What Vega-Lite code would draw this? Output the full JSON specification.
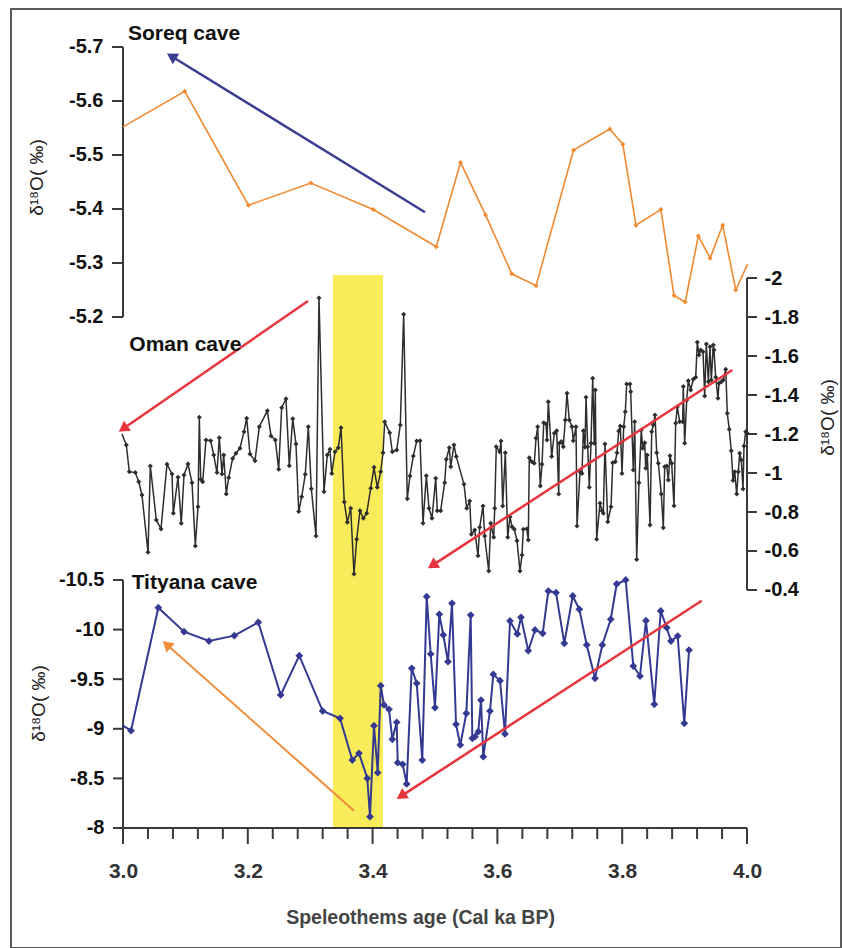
{
  "$schema": "https://vega.github.io/schema/vega-lite/v6.json",
  "width": 830,
  "height": 939,
  "autosize": {"type": "none"},
  "padding": {"left": 11, "top": 9, "right": 2, "bottom": 0},
  "background": "white",
  "config": {
    "font": "Liberation Sans",
    "view": {"stroke": "#5a5a5a", "strokeWidth": 2},
    "axis": {"grid": false, "domain": false, "ticks": false, "labelFont": "Liberation Sans", "labelFontWeight": "bold", "labelColor": "#111", "labelFlush": false, "labelOverlap": false, "labelBound": false, "titleFont": "Liberation Sans", "titleFontWeight": "normal", "titleColor": "#222"}
  },
  "datasets": {
    "soreq": [
      {"age":3.0,"d18O":-5.552},{"age":3.099,"d18O":-5.618},{"age":3.201,"d18O":-5.407},{"age":3.301,"d18O":-5.448},{"age":3.401,"d18O":-5.399},{"age":3.502,"d18O":-5.330},{"age":3.541,"d18O":-5.486},{"age":3.581,"d18O":-5.389},{"age":3.623,"d18O":-5.280},{"age":3.662,"d18O":-5.258},{"age":3.722,"d18O":-5.509},{"age":3.780,"d18O":-5.548},{"age":3.801,"d18O":-5.520},{"age":3.822,"d18O":-5.370},{"age":3.862,"d18O":-5.399},{"age":3.883,"d18O":-5.240},{"age":3.901,"d18O":-5.228},{"age":3.922,"d18O":-5.350},{"age":3.941,"d18O":-5.309},{"age":3.961,"d18O":-5.370},{"age":3.982,"d18O":-5.250},{"age":4.001,"d18O":-5.298}
    ],
    "oman": [
      {"age":2.9984,"d18O":-1.200},{"age":3.0053,"d18O":-1.144},{"age":3.0101,"d18O":-1.007},{"age":3.0197,"d18O":-1.002},{"age":3.0252,"d18O":-0.955},{"age":3.0304,"d18O":-0.887},{"age":3.0401,"d18O":-0.593},{"age":3.0438,"d18O":-1.036},{"age":3.0534,"d18O":-0.759},{"age":3.0609,"d18O":-0.713},
      {"age":3.0705,"d18O":-1.045},{"age":3.0785,"d18O":-0.995},{"age":3.0806,"d18O":-0.793},{"age":3.0881,"d18O":-0.978},{"age":3.0934,"d18O":-0.742},{"age":3.0978,"d18O":-0.990},{"age":3.1042,"d18O":-1.046},{"age":3.1106,"d18O":-0.950},{"age":3.1159,"d18O":-0.626},{"age":3.1202,"d18O":-0.827},
      {"age":3.1223,"d18O":-1.286},{"age":3.1245,"d18O":-0.968},{"age":3.1277,"d18O":-0.955},{"age":3.1330,"d18O":-1.169},{"age":3.1405,"d18O":-1.166},{"age":3.1454,"d18O":-1.092},{"age":3.1506,"d18O":-1.002},{"age":3.1543,"d18O":-1.181},{"age":3.1587,"d18O":-0.995},{"age":3.1614,"d18O":-1.092},
      {"age":3.1655,"d18O":-0.892},{"age":3.1694,"d18O":-0.976},{"age":3.1758,"d18O":-1.075},{"age":3.1811,"d18O":-1.101},{"age":3.1875,"d18O":-1.127},{"age":3.1939,"d18O":-1.212},{"age":3.1982,"d18O":-1.281},{"age":3.2035,"d18O":-1.097},{"age":3.2115,"d18O":-1.063},{"age":3.2184,"d18O":-1.237},
      {"age":3.2313,"d18O":-1.319},{"age":3.2372,"d18O":-1.190},{"age":3.2441,"d18O":-1.169},{"age":3.2495,"d18O":-1.019},{"age":3.2543,"d18O":-1.335},{"age":3.2612,"d18O":-1.381},{"age":3.2665,"d18O":-1.037},{"age":3.2720,"d18O":-1.278},{"age":3.2772,"d18O":-1.149},{"age":3.2816,"d18O":-0.802},
      {"age":3.2864,"d18O":-0.878},{"age":3.2921,"d18O":-0.993},{"age":3.2970,"d18O":-1.237},{"age":3.3018,"d18O":-0.919},{"age":3.3093,"d18O":-0.677},{"age":3.3141,"d18O":-1.897},{"age":3.3221,"d18O":-0.904},{"age":3.3274,"d18O":-1.092},{"age":3.3317,"d18O":-1.122},{"age":3.3345,"d18O":-0.998},
      {"age":3.3397,"d18O":-1.109},{"age":3.3450,"d18O":-1.130},{"age":3.3494,"d18O":-1.232},{"age":3.3546,"d18O":-0.851},{"age":3.3595,"d18O":-0.747},{"age":3.3649,"d18O":-0.819},{"age":3.3702,"d18O":-0.482},{"age":3.3745,"d18O":-0.660},{"age":3.3798,"d18O":-0.807},{"age":3.3851,"d18O":-0.768},
      {"age":3.3905,"d18O":-0.793},{"age":3.3970,"d18O":-0.922},{"age":3.4022,"d18O":-1.029},{"age":3.4075,"d18O":-0.927},{"age":3.4130,"d18O":-1.007},{"age":3.4167,"d18O":-1.104},{"age":3.4194,"d18O":-1.263},{"age":3.4274,"d18O":-1.207},{"age":3.4316,"d18O":-1.109},{"age":3.4386,"d18O":-1.118},
      {"age":3.4444,"d18O":-1.246},{"age":3.4498,"d18O":-1.814},{"age":3.4556,"d18O":-0.868},{"age":3.4599,"d18O":-0.985},{"age":3.4652,"d18O":-1.087},{"age":3.4707,"d18O":-1.164},{"age":3.4760,"d18O":-1.166},{"age":3.4808,"d18O":-0.742},{"age":3.4861,"d18O":-0.986},{"age":3.4904,"d18O":-0.819},
      {"age":3.4952,"d18O":-0.768},{"age":3.5011,"d18O":-0.973},{"age":3.5037,"d18O":-0.807},{"age":3.5091,"d18O":-0.807},{"age":3.5155,"d18O":-0.950},{"age":3.5181,"d18O":-1.070},{"age":3.5229,"d18O":-1.130},{"age":3.5252,"d18O":-1.032},{"age":3.5304,"d18O":-1.144},{"age":3.5341,"d18O":-1.084},
      {"age":3.5465,"d18O":-0.942},{"age":3.5508,"d18O":-0.819},{"age":3.5556,"d18O":-0.856},{"age":3.5582,"d18O":-0.686},{"age":3.5636,"d18O":-0.708},{"age":3.5689,"d18O":-0.576},{"age":3.5716,"d18O":-0.722},{"age":3.5769,"d18O":-0.831},{"age":3.5796,"d18O":-0.677},{"age":3.5861,"d18O":-0.497},
      {"age":3.5893,"d18O":-0.742},{"age":3.5941,"d18O":-0.670},{"age":3.5957,"d18O":-0.819},{"age":3.5982,"d18O":-1.135},{"age":3.6037,"d18O":-1.109},{"age":3.6058,"d18O":-1.164},{"age":3.6085,"d18O":-0.831},{"age":3.6127,"d18O":-1.104},{"age":3.6165,"d18O":-0.670},{"age":3.6202,"d18O":-0.776},
      {"age":3.6234,"d18O":-0.725},{"age":3.6271,"d18O":-0.711},{"age":3.6314,"d18O":-0.653},{"age":3.6362,"d18O":-0.497},{"age":3.6394,"d18O":-0.579},{"age":3.6415,"d18O":-0.711},{"age":3.6470,"d18O":-0.714},{"age":3.6495,"d18O":-0.656},{"age":3.6511,"d18O":-1.078},{"age":3.6554,"d18O":-1.058},
      {"age":3.6591,"d18O":-1.050},{"age":3.6619,"d18O":-1.178},{"age":3.6646,"d18O":-1.237},{"age":3.6688,"d18O":-0.933},{"age":3.6715,"d18O":-1.045},{"age":3.6742,"d18O":-1.258},{"age":3.6779,"d18O":-1.251},{"age":3.6795,"d18O":-1.169},{"age":3.6816,"d18O":-1.366},{"age":3.6870,"d18O":-1.084},
      {"age":3.6912,"d18O":-1.204},{"age":3.6950,"d18O":-1.217},{"age":3.6982,"d18O":-0.892},{"age":3.6992,"d18O":-1.152},{"age":3.7024,"d18O":-1.161},{"age":3.7056,"d18O":-1.135},{"age":3.7088,"d18O":-1.272},{"age":3.7115,"d18O":-1.409},{"age":3.7152,"d18O":-1.272},{"age":3.7196,"d18O":-1.237},
      {"age":3.7216,"d18O":-1.166},{"age":3.7260,"d18O":-1.237},{"age":3.7276,"d18O":-0.728},{"age":3.7324,"d18O":-1.007},{"age":3.7356,"d18O":-0.998},{"age":3.7377,"d18O":-1.217},{"age":3.7404,"d18O":-1.132},{"age":3.7420,"d18O":-1.388},{"age":3.7447,"d18O":-1.135},{"age":3.7473,"d18O":-0.927},
      {"age":3.7500,"d18O":-1.152},{"age":3.7527,"d18O":-1.486},{"age":3.7553,"d18O":-1.152},{"age":3.7569,"d18O":-1.426},{"age":3.7591,"d18O":-0.660},{"age":3.7644,"d18O":-0.845},{"age":3.7676,"d18O":-0.807},{"age":3.7697,"d18O":-0.793},{"age":3.7724,"d18O":-1.149},{"age":3.7768,"d18O":-0.750},
      {"age":3.7821,"d18O":-0.827},{"age":3.7848,"d18O":-1.053},{"age":3.7889,"d18O":-1.058},{"age":3.7917,"d18O":-1.104},{"age":3.7944,"d18O":-1.215},{"age":3.7970,"d18O":-1.241},{"age":3.7997,"d18O":-0.998},{"age":3.8024,"d18O":-1.237},{"age":3.8050,"d18O":-1.314},{"age":3.8072,"d18O":-1.456},
      {"age":3.8125,"d18O":-1.456},{"age":3.8136,"d18O":-1.417},{"age":3.8178,"d18O":-1.015},{"age":3.8200,"d18O":-1.263},{"age":3.8232,"d18O":-0.557},{"age":3.8269,"d18O":-0.950},{"age":3.8306,"d18O":-1.221},{"age":3.8328,"d18O":-1.127},{"age":3.8361,"d18O":-1.155},{"age":3.8377,"d18O":-1.024},
      {"age":3.8402,"d18O":-1.092},{"age":3.8446,"d18O":-0.733},{"age":3.8473,"d18O":-1.212},{"age":3.8498,"d18O":-1.246},{"age":3.8526,"d18O":-1.297},{"age":3.8553,"d18O":-1.104},{"age":3.8579,"d18O":-1.050},{"age":3.8627,"d18O":-0.892},{"age":3.8659,"d18O":-0.719},{"age":3.8681,"d18O":-1.032},
      {"age":3.8713,"d18O":-1.036},{"age":3.8739,"d18O":-0.964},{"age":3.8766,"d18O":-1.089},{"age":3.8793,"d18O":-1.050},{"age":3.8830,"d18O":-0.832},{"age":3.8857,"d18O":-1.255},{"age":3.8883,"d18O":-1.340},{"age":3.8921,"d18O":-1.263},{"age":3.8969,"d18O":-1.263},{"age":3.8979,"d18O":-1.443},
      {"age":3.9001,"d18O":-1.152},{"age":3.9034,"d18O":-1.374},{"age":3.9059,"d18O":-1.473},{"age":3.9098,"d18O":-1.426},{"age":3.9139,"d18O":-1.481},{"age":3.9178,"d18O":-1.491},{"age":3.9204,"d18O":-1.670},{"age":3.9231,"d18O":-1.605},{"age":3.9258,"d18O":-1.631},{"age":3.9295,"d18O":-1.622},
      {"age":3.9322,"d18O":-1.395},{"age":3.9348,"d18O":-1.662},{"age":3.9380,"d18O":-1.468},{"age":3.9407,"d18O":-1.648},{"age":3.9428,"d18O":-1.477},{"age":3.9460,"d18O":-1.656},{"age":3.9471,"d18O":-1.631},{"age":3.9498,"d18O":-1.491},{"age":3.9535,"d18O":-1.383},{"age":3.9551,"d18O":-1.460},
      {"age":3.9588,"d18O":-1.468},{"age":3.9620,"d18O":-1.477},{"age":3.9659,"d18O":-1.532},{"age":3.9684,"d18O":-1.306},{"age":3.9716,"d18O":-1.224},{"age":3.9748,"d18O":-1.114},{"age":3.9776,"d18O":-0.961},{"age":3.9803,"d18O":-1.007},{"age":3.9835,"d18O":-0.892},{"age":3.9861,"d18O":-1.007},
      {"age":3.9883,"d18O":-1.101},{"age":3.9909,"d18O":-1.067},{"age":3.9936,"d18O":-0.918},{"age":3.9952,"d18O":-1.138},{"age":3.9979,"d18O":-1.212},{"age":4.0005,"d18O":-1.204}
    ],
    "tityana": [
      {"age":3.0,"d18O":-9.031},{"age":3.0128,"d18O":-8.981},{"age":3.0566,"d18O":-10.221},{"age":3.0978,"d18O":-9.979},{"age":3.1378,"d18O":-9.885},{"age":3.1784,"d18O":-9.939},{"age":3.2168,"d18O":-10.074},{"age":3.2527,"d18O":-9.341},{"age":3.2825,"d18O":-9.737},{"age":3.3200,"d18O":-9.179},
      {"age":3.3478,"d18O":-9.106},{"age":3.3675,"d18O":-8.685},{"age":3.3782,"d18O":-8.753},{"age":3.3915,"d18O":-8.501},{"age":3.3958,"d18O":-8.114},{"age":3.4022,"d18O":-9.031},{"age":3.4082,"d18O":-8.557},{"age":3.4130,"d18O":-9.434},{"age":3.4183,"d18O":-9.240},{"age":3.4263,"d18O":-9.197},
      {"age":3.4316,"d18O":-8.894},{"age":3.4386,"d18O":-9.066},{"age":3.4402,"d18O":-8.658},{"age":3.4482,"d18O":-8.642},{"age":3.4546,"d18O":-8.444},{"age":3.4627,"d18O":-9.610},{"age":3.4707,"d18O":-9.459},{"age":3.4796,"d18O":-8.685},{"age":3.4867,"d18O":-10.332},{"age":3.4931,"d18O":-9.754},
      {"age":3.5000,"d18O":-9.213},{"age":3.5069,"d18O":-10.154},{"age":3.5133,"d18O":-9.946},{"age":3.5208,"d18O":-9.676},{"age":3.5272,"d18O":-10.265},{"age":3.5337,"d18O":-9.045},{"age":3.5405,"d18O":-8.837},{"age":3.5502,"d18O":-9.156},{"age":3.5572,"d18O":-10.147},{"age":3.5598,"d18O":-8.904},
      {"age":3.5641,"d18O":-8.920},{"age":3.5694,"d18O":-8.971},{"age":3.5737,"d18O":-9.290},{"age":3.5774,"d18O":-8.719},{"age":3.5881,"d18O":-9.179},{"age":3.5934,"d18O":-9.549},{"age":3.6042,"d18O":-9.485},{"age":3.6122,"d18O":-8.948},{"age":3.6202,"d18O":-10.087},{"age":3.6319,"d18O":-9.956},
      {"age":3.6378,"d18O":-10.124},{"age":3.6495,"d18O":-9.787},{"age":3.6603,"d18O":-9.996},{"age":3.6726,"d18O":-9.963},{"age":3.6816,"d18O":-10.389},{"age":3.6939,"d18O":-10.372},{"age":3.7072,"d18O":-9.862},{"age":3.7207,"d18O":-10.339},{"age":3.7313,"d18O":-10.205},{"age":3.7431,"d18O":-9.845},
      {"age":3.7564,"d18O":-9.509},{"age":3.7681,"d18O":-9.845},{"age":3.7816,"d18O":-10.104},{"age":3.7912,"d18O":-10.460},{"age":3.8056,"d18O":-10.500},{"age":3.8178,"d18O":-9.633},{"age":3.8285,"d18O":-9.532},{"age":3.8381,"d18O":-10.090},{"age":3.8514,"d18O":-9.247},{"age":3.8617,"d18O":-10.188},
      {"age":3.8713,"d18O":-10.019},{"age":3.8782,"d18O":-9.885},{"age":3.8889,"d18O":-9.935},{"age":3.8995,"d18O":-9.055},{"age":3.9071,"d18O":-9.794}
    ],
    "xTicks": [
      {"pos":3.0,"from":-8,"to":-7.8387},{"pos":3.04,"from":-8,"to":-7.8891},{"pos":3.08,"from":-8,"to":-7.8891},{"pos":3.12,"from":-8,"to":-7.8891},{"pos":3.16,"from":-8,"to":-7.8891},{"pos":3.2,"from":-8,"to":-7.8387},
      {"pos":3.24,"from":-8,"to":-7.8891},{"pos":3.28,"from":-8,"to":-7.8891},{"pos":3.32,"from":-8,"to":-7.8891},{"pos":3.36,"from":-8,"to":-7.8891},{"pos":3.4,"from":-8,"to":-7.8387},
      {"pos":3.44,"from":-8,"to":-7.8891},{"pos":3.48,"from":-8,"to":-7.8891},{"pos":3.52,"from":-8,"to":-7.8891},{"pos":3.56,"from":-8,"to":-7.8891},{"pos":3.6,"from":-8,"to":-7.8387},
      {"pos":3.64,"from":-8,"to":-7.8891},{"pos":3.68,"from":-8,"to":-7.8891},{"pos":3.72,"from":-8,"to":-7.8891},{"pos":3.76,"from":-8,"to":-7.8891},{"pos":3.8,"from":-8,"to":-7.8387},
      {"pos":3.84,"from":-8,"to":-7.8891},{"pos":3.88,"from":-8,"to":-7.8891},{"pos":3.92,"from":-8,"to":-7.8891},{"pos":3.96,"from":-8,"to":-7.8891},{"pos":4.0,"from":-8,"to":-7.8387}
    ],
    "tityanaTicks": [{"pos":-10.5,"from":3.0,"to":2.98397},{"pos":-10,"from":3.0,"to":2.98397},{"pos":-9.5,"from":3.0,"to":2.98397},{"pos":-9,"from":3.0,"to":2.98397},{"pos":-8.5,"from":3.0,"to":2.98397},{"pos":-8,"from":3.0,"to":2.98397}],
    "soreqTicks": [{"pos":-5.7,"from":3.0,"to":2.98237},{"pos":-5.6,"from":3.0,"to":2.98237},{"pos":-5.5,"from":3.0,"to":2.98237},{"pos":-5.4,"from":3.0,"to":2.98237},{"pos":-5.3,"from":3.0,"to":2.98237},{"pos":-5.2,"from":3.0,"to":2.98237}],
    "omanTicks": [{"pos":-2,"from":4.0,"to":4.01603},{"pos":-1.8,"from":4.0,"to":4.01603},{"pos":-1.6,"from":4.0,"to":4.01603},{"pos":-1.4,"from":4.0,"to":4.01603},{"pos":-1.2,"from":4.0,"to":4.01603},{"pos":-1,"from":4.0,"to":4.01603},{"pos":-0.8,"from":4.0,"to":4.01603},{"pos":-0.6,"from":4.0,"to":4.01603},{"pos":-0.4,"from":4.0,"to":4.01603}]
  },
  "layer": [
    {
      "data": {"values": [{"start": 3.3365, "end": 3.4167, "top": -13.575, "bottom": -8}]},
      "mark": {"type": "rect", "color": "#f9ec5b"},
      "encoding": {
        "x": {"field": "start", "type": "quantitative", "scale": {"domain": [2.820513, 4.150641], "nice": false, "zero": false}, "axis": null},
        "x2": {"field": "end"},
        "y": {"field": "top", "type": "quantitative", "scale": {"domain": [-16.256, -6.7903], "reverse": true, "nice": false, "zero": false}, "axis": null},
        "y2": {"field": "bottom"}
      }
    },
    {
      "data": {"values": [{"from": 3.0, "to": 4.0, "level": -8}]},
      "mark": {"type": "rule", "color": "#3a3a3a", "strokeWidth": 2},
      "encoding": {
        "x": {"field": "from", "type": "quantitative", "axis": null},
        "x2": {"field": "to"},
        "y": {"field": "level", "type": "quantitative", "scale": {"domain": [-16.256, -6.7903], "reverse": true, "nice": false, "zero": false}, "axis": null}
      }
    },
    {
      "data": {"values": [{"at": 3.0, "from": -10.5, "to": -8}]},
      "mark": {"type": "rule", "color": "#3a3a3a", "strokeWidth": 2},
      "encoding": {
        "x": {"field": "at", "type": "quantitative", "axis": null},
        "y": {"field": "from", "type": "quantitative", "scale": {"domain": [-16.256, -6.7903], "reverse": true, "nice": false, "zero": false}, "axis": null},
        "y2": {"field": "to"}
      }
    },
    {
      "data": {"values": [{"at": 3.0, "from": -5.7, "to": -5.2}]},
      "mark": {"type": "rule", "color": "#3a3a3a", "strokeWidth": 2},
      "encoding": {
        "x": {"field": "at", "type": "quantitative", "axis": null},
        "y": {"field": "from", "type": "quantitative", "scale": {"domain": [-5.77037, -4.03148], "reverse": true, "nice": false, "zero": false}, "axis": null},
        "y2": {"field": "to"}
      }
    },
    {
      "data": {"values": [{"at": 4.0, "from": -2, "to": -0.4}]},
      "mark": {"type": "rule", "color": "#3a3a3a", "strokeWidth": 2},
      "encoding": {
        "x": {"field": "at", "type": "quantitative", "axis": null},
        "y": {"field": "from", "type": "quantitative", "scale": {"domain": [-3.37949, 1.4359], "reverse": true, "nice": false, "zero": false}, "axis": null},
        "y2": {"field": "to"}
      }
    },
    {
      "data": {"name": "xTicks"},
      "mark": {"type": "rule", "color": "#3a3a3a", "strokeWidth": 2},
      "encoding": {
        "x": {"field": "pos", "type": "quantitative", "axis": null},
        "y": {"field": "from", "type": "quantitative", "scale": {"domain": [-16.256, -6.7903], "reverse": true, "nice": false, "zero": false}, "axis": null},
        "y2": {"field": "to"}
      }
    },
    {
      "data": {"name": "tityanaTicks"},
      "mark": {"type": "rule", "color": "#3a3a3a", "strokeWidth": 2},
      "encoding": {
        "x": {"field": "from", "type": "quantitative", "axis": null},
        "x2": {"field": "to"},
        "y": {"field": "pos", "type": "quantitative", "scale": {"domain": [-16.256, -6.7903], "reverse": true, "nice": false, "zero": false}, "axis": null}
      }
    },
    {
      "data": {"name": "soreqTicks"},
      "mark": {"type": "rule", "color": "#3a3a3a", "strokeWidth": 2},
      "encoding": {
        "x": {"field": "from", "type": "quantitative", "axis": null},
        "x2": {"field": "to"},
        "y": {"field": "pos", "type": "quantitative", "scale": {"domain": [-5.77037, -4.03148], "reverse": true, "nice": false, "zero": false}, "axis": null}
      }
    },
    {
      "data": {"name": "omanTicks"},
      "mark": {"type": "rule", "color": "#3a3a3a", "strokeWidth": 2},
      "encoding": {
        "x": {"field": "from", "type": "quantitative", "axis": null},
        "x2": {"field": "to"},
        "y": {"field": "pos", "type": "quantitative", "scale": {"domain": [-3.37949, 1.4359], "reverse": true, "nice": false, "zero": false}, "axis": null}
      }
    },
    {
      "data": {"name": "tityana"},
      "mark": {"type": "line", "color": "#343a92", "strokeWidth": 2},
      "encoding": {
        "x": {"field": "age", "type": "quantitative",
          "axis": {"orient": "bottom", "offset": -120, "values": [3.0, 3.2, 3.4, 3.6, 3.8, 4.0], "labelExpr": "format(datum.value, '.1f')", "labelFontSize": 21, "labelColor": "#333", "labelPadding": 32,
            "title": "Speleothems age (Cal ka BP)", "titleFontSize": 19.5, "titleFontWeight": "bold", "titleColor": "#444", "titleX": 409, "titleY": 89.5, "titleAlign": "center", "titleBaseline": "middle", "titleAngle": 0}},
        "y": {"field": "d18O", "type": "quantitative", "scale": {"domain": [-16.256, -6.7903], "reverse": true, "nice": false, "zero": false},
          "axis": {"orient": "left", "offset": -112, "values": [-10.5, -10, -9.5, -9, -8.5, -8], "labelExpr": "'-' + format(-datum.value, '~g')", "labelFontSize": 20, "labelPadding": 19,
            "title": "δ¹⁸O( ‰)", "titleFontSize": 19, "titleX": -85, "titleY": 694, "titleAngle": 270, "titleAlign": "center", "titleBaseline": "middle"}}
      }
    },
    {
      "data": {"name": "tityana"},
      "transform": [{"filter": "datum.age > 3.001"}],
      "mark": {"type": "point", "shape": "diamond", "filled": true, "size": 60, "opacity": 1, "color": "#343a92"},
      "encoding": {
        "x": {"field": "age", "type": "quantitative", "axis": null},
        "y": {"field": "d18O", "type": "quantitative", "scale": {"domain": [-16.256, -6.7903], "reverse": true, "nice": false, "zero": false}, "axis": null}
      }
    },
    {
      "data": {"values": [{"age": 3.3702, "d18O": -8.1744}, {"age": 3.0700, "d18O": -9.8498}]},
      "mark": {"type": "line", "color": "#f08c3a", "strokeWidth": 2},
      "encoding": {
        "x": {"field": "age", "type": "quantitative", "axis": null},
        "y": {"field": "d18O", "type": "quantitative", "scale": {"domain": [-16.256, -6.7903], "reverse": true, "nice": false, "zero": false}, "axis": null}
      }
    },
    {
      "data": {"values": [{"age": 3.0700, "d18O": -9.8498}]},
      "mark": {"type": "point", "shape": "triangle-up", "filled": true, "size": 150, "angle": 311.6, "opacity": 1, "color": "#f08c3a"},
      "encoding": {
        "x": {"field": "age", "type": "quantitative", "axis": null},
        "y": {"field": "d18O", "type": "quantitative", "scale": {"domain": [-16.256, -6.7903], "reverse": true, "nice": false, "zero": false}, "axis": null}
      }
    },
    {
      "data": {"values": [{"age": 3.9274, "d18O": -10.2913}, {"age": 3.4457, "d18O": -8.3216}]},
      "mark": {"type": "line", "color": "#e8343c", "strokeWidth": 2.5},
      "encoding": {
        "x": {"field": "age", "type": "quantitative", "axis": null},
        "y": {"field": "d18O", "type": "quantitative", "scale": {"domain": [-16.256, -6.7903], "reverse": true, "nice": false, "zero": false}, "axis": null}
      }
    },
    {
      "data": {"values": [{"age": 3.4457, "d18O": -8.3216}]},
      "mark": {"type": "point", "shape": "triangle-up", "filled": true, "size": 150, "angle": 237.0, "opacity": 1, "color": "#e8343c"},
      "encoding": {
        "x": {"field": "age", "type": "quantitative", "axis": null},
        "y": {"field": "d18O", "type": "quantitative", "scale": {"domain": [-16.256, -6.7903], "reverse": true, "nice": false, "zero": false}, "axis": null}
      }
    },
    {
      "data": {"values": [{"label": "Tityana cave", "age": 3.0139, "d18O": -10.406}]},
      "mark": {"type": "text", "align": "left", "baseline": "alphabetic", "fontSize": 21, "fontWeight": "bold", "color": "#111"},
      "encoding": {
        "x": {"field": "age", "type": "quantitative", "axis": null},
        "y": {"field": "d18O", "type": "quantitative", "scale": {"domain": [-16.256, -6.7903], "reverse": true, "nice": false, "zero": false}, "axis": null},
        "text": {"field": "label"}
      }
    },
    {
      "data": {"name": "soreq"},
      "mark": {"type": "line", "color": "#f08a31", "strokeWidth": 1.6},
      "encoding": {
        "x": {"field": "age", "type": "quantitative", "axis": null},
        "y": {"field": "d18O", "type": "quantitative", "scale": {"domain": [-5.77037, -4.03148], "reverse": true, "nice": false, "zero": false},
          "axis": {"orient": "left", "offset": -112, "values": [-5.7, -5.6, -5.5, -5.4, -5.3, -5.2], "labelExpr": "'-' + format(-datum.value, '.1f')", "labelFontSize": 20, "labelPadding": 20,
            "title": "δ¹⁸O( ‰)", "titleFontSize": 19, "titleX": -87, "titleY": 168, "titleAngle": 270, "titleAlign": "center", "titleBaseline": "middle"}}
      }
    },
    {
      "data": {"name": "soreq"},
      "transform": [{"filter": "datum.age > 3.0005 && datum.age < 4.0"}],
      "mark": {"type": "point", "shape": "diamond", "filled": true, "size": 25, "opacity": 1, "color": "#f08a31"},
      "encoding": {
        "x": {"field": "age", "type": "quantitative", "axis": null},
        "y": {"field": "d18O", "type": "quantitative", "scale": {"domain": [-5.77037, -4.03148], "reverse": true, "nice": false, "zero": false}, "axis": null}
      }
    },
    {
      "data": {"values": [{"age": 3.484, "d18O": -5.394}, {"age": 3.0777, "d18O": -5.6828}]},
      "mark": {"type": "line", "color": "#3b3e90", "strokeWidth": 2.5},
      "encoding": {
        "x": {"field": "age", "type": "quantitative", "axis": null},
        "y": {"field": "d18O", "type": "quantitative", "scale": {"domain": [-5.77037, -4.03148], "reverse": true, "nice": false, "zero": false}, "axis": null}
      }
    },
    {
      "data": {"values": [{"age": 3.0777, "d18O": -5.6828}]},
      "mark": {"type": "point", "shape": "triangle-up", "filled": true, "size": 150, "angle": 301.6, "opacity": 1, "color": "#3b3e90"},
      "encoding": {
        "x": {"field": "age", "type": "quantitative", "axis": null},
        "y": {"field": "d18O", "type": "quantitative", "scale": {"domain": [-5.77037, -4.03148], "reverse": true, "nice": false, "zero": false}, "axis": null}
      }
    },
    {
      "data": {"values": [{"label": "Soreq cave", "age": 3.008, "d18O": -5.713}]},
      "mark": {"type": "text", "align": "left", "baseline": "alphabetic", "fontSize": 21, "fontWeight": "bold", "color": "#111"},
      "encoding": {
        "x": {"field": "age", "type": "quantitative", "axis": null},
        "y": {"field": "d18O", "type": "quantitative", "scale": {"domain": [-5.77037, -4.03148], "reverse": true, "nice": false, "zero": false}, "axis": null},
        "text": {"field": "label"}
      }
    },
    {
      "data": {"name": "oman"},
      "mark": {"type": "line", "color": "#2e2e2e", "strokeWidth": 1.5},
      "encoding": {
        "x": {"field": "age", "type": "quantitative", "axis": null},
        "y": {"field": "d18O", "type": "quantitative", "scale": {"domain": [-3.37949, 1.4359], "reverse": true, "nice": false, "zero": false},
          "axis": {"orient": "right", "offset": -94, "values": [-2, -1.8, -1.6, -1.4, -1.2, -1, -0.8, -0.6, -0.4], "labelExpr": "'-' + format(-datum.value, '~g')", "labelFontSize": 20, "labelPadding": 17,
            "title": "δ¹⁸O( ‰)", "titleFontSize": 19, "titleX": 80, "titleY": 408, "titleAngle": 270, "titleAlign": "center", "titleBaseline": "middle"}}
      }
    },
    {
      "data": {"name": "oman"},
      "transform": [{"filter": "datum.age >= 3.0"}],
      "mark": {"type": "point", "shape": "diamond", "filled": true, "size": 25, "opacity": 1, "color": "#2e2e2e"},
      "encoding": {
        "x": {"field": "age", "type": "quantitative", "axis": null},
        "y": {"field": "d18O", "type": "quantitative", "scale": {"domain": [-3.37949, 1.4359], "reverse": true, "nice": false, "zero": false}, "axis": null}
      }
    },
    {
      "data": {"values": [{"age": 3.2965, "d18O": -1.882}, {"age": 3.0002, "d18O": -1.2272}]},
      "mark": {"type": "line", "color": "#e8343c", "strokeWidth": 2.5},
      "encoding": {
        "x": {"field": "age", "type": "quantitative", "axis": null},
        "y": {"field": "d18O", "type": "quantitative", "scale": {"domain": [-3.37949, 1.4359], "reverse": true, "nice": false, "zero": false}, "axis": null}
      }
    },
    {
      "data": {"values": [{"age": 3.0002, "d18O": -1.2272}]},
      "mark": {"type": "point", "shape": "triangle-up", "filled": true, "size": 150, "angle": 235.4, "opacity": 1, "color": "#e8343c"},
      "encoding": {
        "x": {"field": "age", "type": "quantitative", "axis": null},
        "y": {"field": "d18O", "type": "quantitative", "scale": {"domain": [-3.37949, 1.4359], "reverse": true, "nice": false, "zero": false}, "axis": null}
      }
    },
    {
      "data": {"values": [{"age": 3.9764, "d18O": -1.5282}, {"age": 3.4958, "d18O": -0.5262}]},
      "mark": {"type": "line", "color": "#e8343c", "strokeWidth": 2.5},
      "encoding": {
        "x": {"field": "age", "type": "quantitative", "axis": null},
        "y": {"field": "d18O", "type": "quantitative", "scale": {"domain": [-3.37949, 1.4359], "reverse": true, "nice": false, "zero": false}, "axis": null}
      }
    },
    {
      "data": {"values": [{"age": 3.4958, "d18O": -0.5262}]},
      "mark": {"type": "point", "shape": "triangle-up", "filled": true, "size": 150, "angle": 237.0, "opacity": 1, "color": "#e8343c"},
      "encoding": {
        "x": {"field": "age", "type": "quantitative", "axis": null},
        "y": {"field": "d18O", "type": "quantitative", "scale": {"domain": [-3.37949, 1.4359], "reverse": true, "nice": false, "zero": false}, "axis": null}
      }
    },
    {
      "data": {"values": [{"label": "Oman cave", "age": 3.0101, "d18O": -1.627}]},
      "mark": {"type": "text", "align": "left", "baseline": "alphabetic", "fontSize": 21, "fontWeight": "bold", "color": "#111"},
      "encoding": {
        "x": {"field": "age", "type": "quantitative", "axis": null},
        "y": {"field": "d18O", "type": "quantitative", "scale": {"domain": [-3.37949, 1.4359], "reverse": true, "nice": false, "zero": false}, "axis": null},
        "text": {"field": "label"}
      }
    }
  ],
  "resolve": {"scale": {"y": "independent"}, "axis": {"x": "independent", "y": "independent"}}
}
